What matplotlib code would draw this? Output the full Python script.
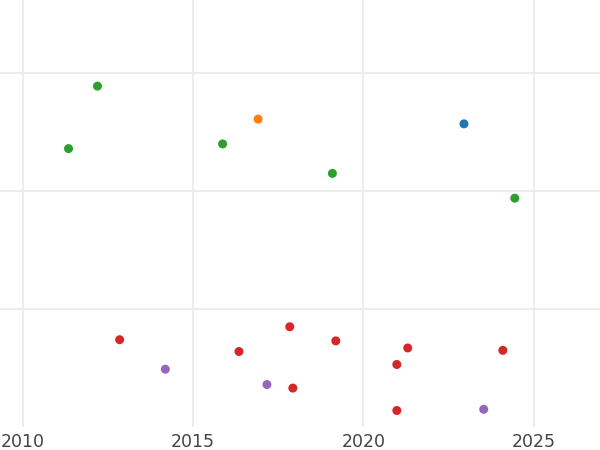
import numpy as np
import matplotlib.pyplot as plt

# values (x = year, y = unlabelled value)
green_x = [2012.20, 2011.35, 2015.87, 2019.09, 2024.44]
green_y = [2.89, 2.36, 2.40, 2.15, 1.94]

orange_x = [2016.91]
orange_y = [2.61]

blue_x = [2022.95]
blue_y = [2.57]

red_x = [2012.85, 2016.35, 2017.84, 2017.93, 2019.19, 2021.30, 2020.98, 2024.09, 2020.98]
red_y = [0.74, 0.64, 0.85, 0.33, 0.73, 0.67, 0.53, 0.65, 0.14]

purple_x = [2014.19, 2017.17, 2023.53]
purple_y = [0.49, 0.36, 0.15]

xticks = [2010, 2015, 2020, 2025]
yticks = [1, 2, 3]

series = [
    (green_x, green_y, "#2ca02c"),
    (orange_x, orange_y, "#ff7f0e"),
    (blue_x, blue_y, "#1f77b4"),
    (red_x, red_y, "#d62728"),
    (purple_x, purple_y, "#9467bd"),
]


def plot_scatter():
    fig = plt.figure(figsize=(6, 4.5), dpi=100)
    ax = fig.add_axes([0, 23 / 450, 1, 427 / 450])

    for xs, ys, c in series:
        ax.scatter(xs, ys, s=42, color=c, edgecolors="none", zorder=3)

    ax.set_xlim(2009.34, 2026.94)
    ax.set_ylim(0, 3.62)
    ax.set_xticks(xticks)
    ax.set_yticks(yticks)
    ax.set_yticklabels([])
    ax.tick_params(length=0, labelsize=12.5, labelcolor="#444444", pad=4)
    ax.grid(True, color="#ebebeb", linewidth=1.3)
    ax.set_axisbelow(True)
    for s in ax.spines.values():
        s.set_visible(False)

    fig.savefig("out.png", dpi=100)


if __name__ == '__main__':
    plot_scatter()
